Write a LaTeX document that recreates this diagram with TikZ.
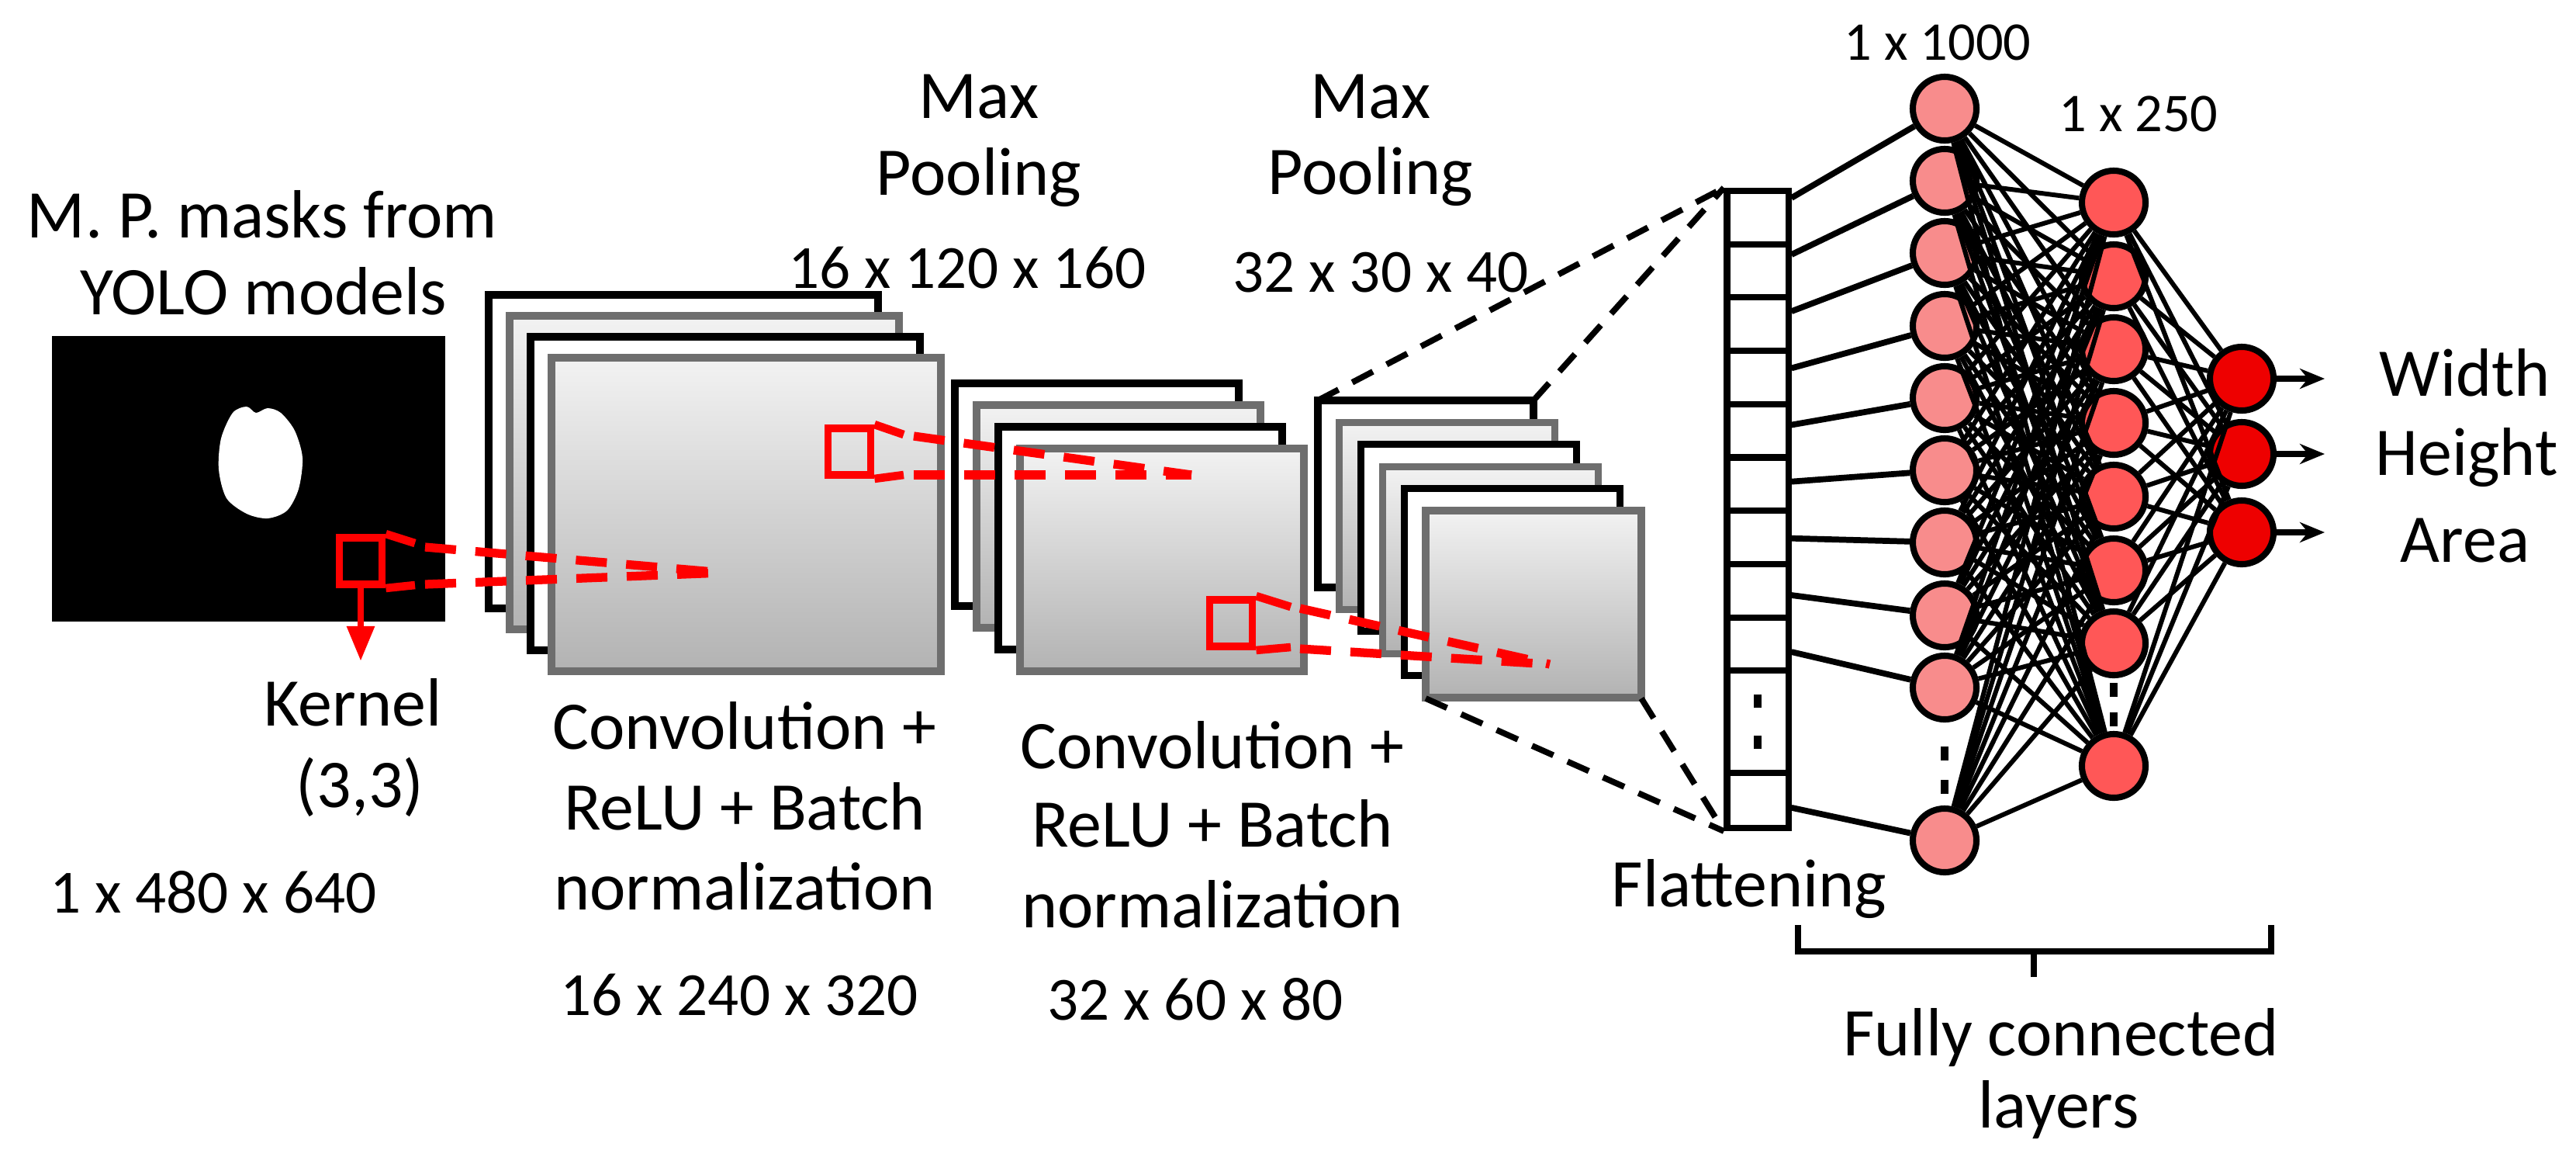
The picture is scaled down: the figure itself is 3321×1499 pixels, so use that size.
\documentclass[tikz,border=0pt]{standalone}
\usepackage{fontspec}
\setmainfont{Carlito}
\usetikzlibrary{arrows.meta}
\definecolor{nA}{HTML}{F88C8C}
\definecolor{nB}{HTML}{FF5757}
\definecolor{nC}{HTML}{EE0000}
\definecolor{sheetgray}{HTML}{6E6E6E}
\definecolor{kred}{HTML}{FF0000}
\begin{document}
\begin{tikzpicture}[x=0.01cm,y=-0.01cm,
  big/.style={anchor=base,font=\fontsize{25}{30}\selectfont,inner sep=0pt},
  mid/.style={anchor=base,font=\fontsize{22.5}{27}\selectfont,inner sep=0pt},
  small/.style={anchor=base,font=\fontsize{20}{24}\selectfont,inner sep=0pt},
  bsheet/.style={draw=black,fill=white,line width=2.6pt},
  gsheet/.style={draw=sheetgray,line width=2.6pt,top color=black!5,bottom color=black!30},
  kbox/.style={draw=kred,line width=2.8pt,minimum width=0.55cm,minimum height=0.6cm,inner sep=0pt},
  kline/.style={draw=kred,line width=3pt},
  kdash/.style={draw=kred,line width=3.2pt,dash pattern=on 0.4cm off 0.25cm},
  pdash/.style={draw=black,line width=2.2pt,dash pattern=on 0.3cm off 0.2cm},
  cell/.style={draw=black,line width=2.3pt,fill=white,minimum width=0.79cm,inner sep=0pt},
  neu/.style={circle,draw=black,line width=2.3pt,minimum size=0.82cm,inner sep=0pt},
  conn/.style={draw=black,line width=1.7pt},
]
\useasboundingbox (0,0) rectangle (3321,1499);

% input image
\node[fill=black,minimum width=5.07cm,minimum height=3.68cm,anchor=north west,inner sep=0pt] (img) at (66,432) {};
\fill[white] plot[smooth cycle] coordinates {(300,532) (318,524) (330,532) (345,526) (362,532) (380,555) (390,590) (385,630) (370,658) (345,668) (318,662) (292,642) (282,605) (285,565)};

\node[big] (tm1) at (338,306) {M. P. masks from};
\node[big] (tm2) at (340,405) {YOLO models};

% conv block 1
\foreach \i in {0,...,3}{
  \pgfmathsetmacro\xx{630+27*\i}\pgfmathsetmacro\yy{380+27*\i}
  \ifodd\i \draw[gsheet] (\xx,\yy) rectangle ++(502,404);
  \else \draw[bsheet] (\xx,\yy) rectangle ++(502,404); \fi}
% conv block 2
\foreach \i in {0,...,3}{
  \pgfmathsetmacro\xx{1231+28*\i}\pgfmathsetmacro\yy{494+28*\i}
  \ifodd\i \draw[gsheet] (\xx,\yy) rectangle ++(366,287);
  \else \draw[bsheet] (\xx,\yy) rectangle ++(366,287); \fi}
% pooled block 3
\foreach \i in {0,...,5}{
  \pgfmathsetmacro\xx{1699+27.8*\i}\pgfmathsetmacro\yy{516+28.4*\i}
  \ifodd\i \draw[gsheet] (\xx,\yy) rectangle ++(278,241);
  \else \draw[bsheet] (\xx,\yy) rectangle ++(278,241); \fi}
\coordinate (p1) at (1699,516);
\coordinate (p2) at (1977,516);
\coordinate (p3) at (1838,900);
\coordinate (p4) at (2116,900);

% kernels
\node[kbox] (k1) at (465,723) {};
\draw[kline] (k1.north east) -- (535,700);
\draw[kline] (k1.south east) -- (535,754);
\coordinate (f1) at (932,738);
\draw[kdash] (548,705) -- (f1);
\draw[kdash] (548,753) -- (f1);
\coordinate (ka) at (465,852);
\draw[draw=kred,line width=2.5pt,-{Triangle[length=0.45cm,width=0.34cm]}] (k1.south) -- (ka);

\node[kbox] (k2) at (1095,582) {};
\draw[kline] (k2.north east) -- (1165,560);
\draw[kline] (k2.south east) -- (1165,612);
\coordinate (f2) at (1536,612);
\draw[kdash] (1178,562) -- (f2);
\draw[kdash] (1178,612) -- (f2);

\node[kbox] (k3) at (1587,803) {};
\draw[kline] (k3.north east) -- (1664,782);
\draw[kline] (k3.south east) -- (1664,834);
\coordinate (f3) at (1998,856);
\draw[kdash] (1676,784) -- (f3);
\draw[kdash] (1676,836) -- (f3);

% flatten column
\foreach \i in {1,...,9}{
  \pgfmathsetmacro\yy{246+68.7*(\i-0.5)}
  \node[cell,minimum height=0.687cm] (c\i) at (2266,\yy) {};}
\node[cell,minimum height=1.32cm] (c10) at (2266,930) {};
\draw[line width=3pt] (2266,895) -- (2266,912) (2266,948) -- (2266,965);
\node[cell,minimum height=0.71cm] (c11) at (2266,1031.5) {};

\draw[pdash] (p1) -- (c1.north west);
\draw[pdash] (p2) -- (c1.north west);
\draw[pdash] (p3) -- (c11.south west);
\draw[pdash] (p4) -- (c11.south west);

% neurons
\foreach \i/\y in {1/140,2/233,3/326,4/420,5/513,6/606,7/699,8/793,9/886,10/1083}{
  \node[neu,fill=nA] (a\i) at (2507,\y) {};}
\draw[line width=3pt] (2507,962) -- (2507,980) (2507,1005) -- (2507,1023);
\foreach \i/\y in {1/261,2/356,3/450,4/545,5/640,6/735,7/829,8/987}{
  \node[neu,fill=nB] (b\i) at (2725,\y) {};}
\draw[line width=3pt] (2725,880) -- (2725,898) (2725,918) -- (2725,936);
\foreach \i/\y in {1/488,2/585,3/686}{
  \node[neu,fill=nC] (o\i) at (2890,\y) {};}

\foreach \i in {1,...,9}{\draw[conn,line width=2.2pt] (c\i) -- (a\i);}
\draw[conn,line width=2.2pt] (c11) -- (a10);
\foreach \i in {1,...,10}{\foreach \j in {1,...,8}{\draw[conn] (a\i) -- (b\j);}}
\foreach \j in {1,...,8}{\foreach \k in {1,...,3}{\draw[conn] (b\j) -- (o\k);}}

\coordinate (e1) at (2997,488);
\coordinate (e2) at (2997,585);
\coordinate (e3) at (2997,686);
\foreach \k in {1,2,3}{\draw[line width=2.4pt,-{Stealth[length=0.32cm,width=0.26cm]}] (o\k) -- (e\k);}

% brace
\draw[line width=2.4pt] (2318,1192) -- (2318,1226) -- (2928,1226) -- (2928,1192);
\coordinate (br) at (2622,1226);
\coordinate (brt) at (2622,1259);
\draw[line width=2.4pt] (br) -- (brt);

% labels
\node[big] (lmx1) at (1262,152) {Max};
\node[big] (lpo1) at (1262,251) {Pooling};
\node[mid] (ld1) at (1247,371) {16 x 120 x 160};
\node[big] (lmx2) at (1767,152) {Max};
\node[big] (lpo2) at (1767,250) {Pooling};
\node[mid] (ld2) at (1780,376) {32 x 30 x 40};
\node[big] (lk) at (455,935) {Kernel};
\node[big] (lk2) at (464,1040) {(3,3)};
\node[mid] (lin) at (275,1176) {1 x 480 x 640};
\node[big] (lc1a) at (960,965) {Convolution +};
\node[big] (lc1b) at (960,1069) {ReLU + Batch};
\node[big] (lc1c) at (960,1172) {normalization};
\node[mid] (ld3) at (953,1308) {16 x 240 x 320};
\node[big] (lc2a) at (1563,990) {Convolution +};
\node[big] (lc2b) at (1563,1091) {ReLU + Batch};
\node[big] (lc2c) at (1563,1195) {normalization};
\node[mid] (ld4) at (1541,1314) {32 x 60 x 80};
\node[big] (lfl) at (2255,1168) {Flattening};
\node[small] (l1000) at (2498,77) {1 x 1000};
\node[small] (l250) at (2757,169) {1 x 250};
\node[big] (lw) at (3178,510) {Width};
\node[big] (lh) at (3180,612) {Height};
\node[big] (la) at (3178,724) {Area};
\node[big] (lf1) at (2657,1360) {Fully connected};
\node[big] (lf2) at (2654,1453) {layers};
\end{tikzpicture}
\end{document}
